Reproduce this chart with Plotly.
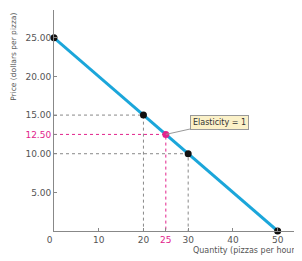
import plotly.graph_objects as go

quantity = [0, 20, 25, 30, 50]
price = [25.0, 15.0, 12.5, 10.0, 0.0]
black_q = [0, 20, 30, 50]
black_p = [25.0, 15.0, 10.0, 0.0]
mid_q = [25]
mid_p = [12.5]
ytick_vals = [5, 10, 12.5, 15, 20, 25]
ytick_text = ["5.00", "10.00", "12.50", "15.00", "20.00", "25.00"]
xtick_vals = [0, 10, 20, 25, 30, 40, 50]
xtick_text = ["0", "10", "20", "25", "30", "40", "50"]

PINK = "#e2238c"
GRAY = "#555555"
BLUE = "#1ba6da"

fig = go.Figure()

# dotted guide lines
for q, p in zip([20, 30], [15.0, 10.0]):
    fig.add_trace(go.Scatter(x=[0, q, q], y=[p, p, 0], mode="lines",
                             line=dict(color="#888888", width=1, dash="dot"),
                             hoverinfo="skip", showlegend=False))
fig.add_trace(go.Scatter(x=[0, mid_q[0], mid_q[0]], y=[mid_p[0], mid_p[0], 0], mode="lines",
                         line=dict(color=PINK, width=1, dash="dot"),
                         hoverinfo="skip", showlegend=False))

fig.add_trace(go.Scatter(x=[quantity[0], quantity[-1]], y=[price[0], price[-1]], mode="lines",
                         line=dict(color=BLUE, width=3), showlegend=False))
fig.add_trace(go.Scatter(x=black_q, y=black_p, mode="markers",
                         marker=dict(color="#111111", size=7), showlegend=False, cliponaxis=False))
fig.add_trace(go.Scatter(x=mid_q, y=mid_p, mode="markers",
                         marker=dict(color=PINK, size=7), showlegend=False))

ytt = [f"<span style='color:{PINK}'>{t}</span>" if v == 12.5 else t for v, t in zip(ytick_vals, ytick_text)]
xtt = []
for v, t in zip(xtick_vals, xtick_text):
    if v == 25:
        xtt.append(f"<span style='color:{PINK}'>{t}</span>")
    elif v == 0:
        xtt.append(t + "\u00a0" * 3)
    else:
        xtt.append(t)

fig.update_xaxes(range=[0, 55], showgrid=False, zeroline=False, showline=True,
                 linecolor="#888888", linewidth=1, tickvals=xtick_vals, ticktext=xtt,
                 ticks="inside", ticklen=3, tickcolor="#888888",
                 tickfont=dict(size=9, color=GRAY))
fig.update_yaxes(range=[0, 28.6], showgrid=False, zeroline=False, showline=True,
                 linecolor="#888888", linewidth=1, tickvals=ytick_vals, ticktext=ytt,
                 ticks="inside", ticklen=3, tickcolor="#888888",
                 tickfont=dict(size=9, color=GRAY))

fig.add_annotation(text="Price (dollars per pizza)", xref="paper", yref="paper",
                   x=-0.165, y=0.79, textangle=-90, showarrow=False,
                   font=dict(size=7.5, color=GRAY), xanchor="center", yanchor="middle")
fig.add_annotation(text="Quantity (pizzas per hour)", xref="paper", yref="paper",
                   x=1.0, y=-0.086, showarrow=False, xanchor="right", yanchor="middle",
                   font=dict(size=8, color=GRAY))
fig.add_annotation(text="Elasticity = 1", x=25, y=12.5, ax=54, ay=-12,
                   showarrow=True, arrowhead=0, arrowwidth=1, arrowcolor="#999999",
                   bgcolor="#fbf1c8", bordercolor="#999999", borderwidth=1, borderpad=2,
                   font=dict(size=8, color="#333333"))

fig.update_layout(width=294, height=253, margin=dict(l=46, r=2, t=2, b=30),
                  paper_bgcolor="white", plot_bgcolor="white",
                  font=dict(family="DejaVu Sans", color=GRAY))

fig.write_html("out.html")
